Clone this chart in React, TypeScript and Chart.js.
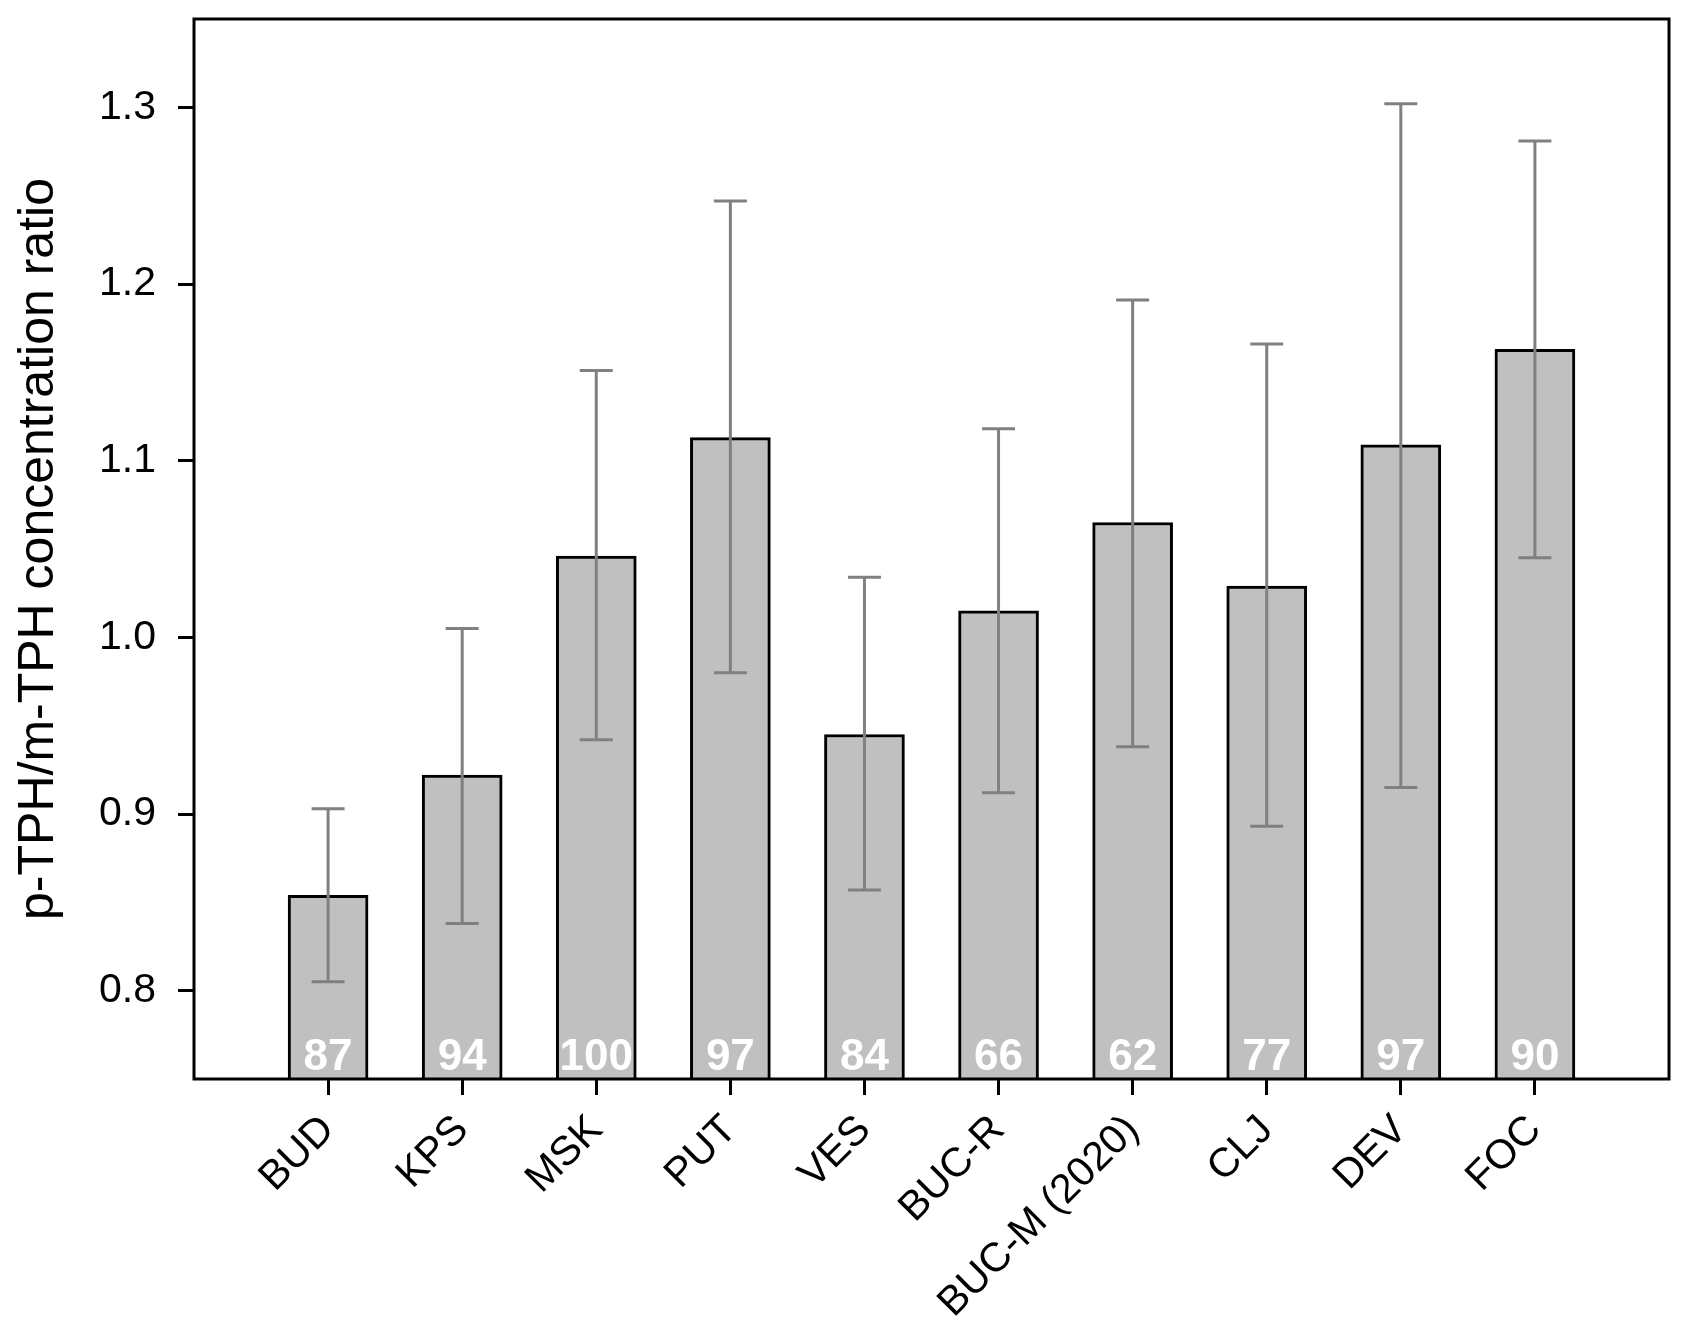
import React, { useEffect, useRef } from 'react';
import { Chart, registerables } from 'chart.js';

Chart.register(...registerables);

const FONT = '"Liberation Sans", Arial, Helvetica, sans-serif';

// ---- data ----
const labels = ['BUD', 'KPS', 'MSK', 'PUT', 'VES', 'BUC-R', 'BUC-M (2020)', 'CLJ', 'DEV', 'FOC'];
const ratios = [0.854, 0.922, 1.046, 1.113, 0.945, 1.015, 1.065, 1.029, 1.109, 1.163];
const errLow = [0.805, 0.838, 0.942, 0.98, 0.857, 0.912, 0.938, 0.893, 0.915, 1.045];
const errHigh = [0.903, 1.005, 1.151, 1.247, 1.034, 1.118, 1.191, 1.166, 1.302, 1.281];
const counts = [87, 94, 100, 97, 84, 66, 62, 77, 97, 90];
const yTicks = [0.8, 0.9, 1.0, 1.1, 1.2, 1.3];
const Y_MIN = 0.75;
const Y_MAX = 1.35;
const yTitle = 'p-TPH/m-TPH concentration ratio';

export default function App() {
  const ref = useRef<HTMLCanvasElement>(null);

  useEffect(() => {
    document.body.style.margin = '0';
    const canvas = ref.current!;

    const overlay = {
      id: 'overlay',
      afterDatasetsDraw(chart: any) {
        const ctx = chart.ctx;
        const xs = chart.scales.x;
        const ys = chart.scales.y;
        const area = chart.chartArea;
        ctx.save();
        // error bars
        ctx.strokeStyle = '#808080';
        ctx.lineWidth = 3;
        ctx.lineCap = 'butt';
        const cap = 33;
        labels.forEach((_, i) => {
          const x = xs.getPixelForValue(i);
          const yl = ys.getPixelForValue(errLow[i]);
          const yh = ys.getPixelForValue(errHigh[i]);
          ctx.beginPath();
          ctx.moveTo(x, yl);
          ctx.lineTo(x, yh);
          ctx.moveTo(x - cap / 2, yl);
          ctx.lineTo(x + cap / 2, yl);
          ctx.moveTo(x - cap / 2, yh);
          ctx.lineTo(x + cap / 2, yh);
          ctx.stroke();
        });
        // counts
        ctx.fillStyle = '#ffffff';
        ctx.font = `bold 44px ${FONT}`;
        ctx.textAlign = 'center';
        ctx.textBaseline = 'alphabetic';
        labels.forEach((_, i) => {
          const x = xs.getPixelForValue(i);
          const y = ys.getPixelForValue(Y_MIN) - 9;
          ctx.fillText(String(counts[i]), x, y);
        });
        // frame
        ctx.strokeStyle = '#000';
        ctx.lineWidth = 3;
        ctx.strokeRect(area.left, area.top, area.right - area.left, area.bottom - area.top);
        // y title
        ctx.fillStyle = '#000';
        ctx.font = `50px ${FONT}`;
        ctx.textAlign = 'center';
        ctx.textBaseline = 'alphabetic';
        ctx.translate(53, (area.top + area.bottom) / 2);
        ctx.rotate(-Math.PI / 2);
        ctx.fillText(yTitle, 0, 0);
        ctx.restore();
      },
    };

    const chart = new Chart(canvas, {
      type: 'bar',
      data: {
        datasets: [
          {
            data: labels.map((_, i) => ({ x: i, y: [Y_MIN, ratios[i]] })) as any,
            backgroundColor: '#c0c0c0',
            borderColor: '#000000',
            borderWidth: 3,
            borderSkipped: 'start',
            barThickness: 80,
          },
        ],
      },
      options: {
        animation: false,
        responsive: false,
        devicePixelRatio: 1,
        layout: { padding: { top: 19, right: 20, left: 0, bottom: 0 } },
        plugins: { legend: { display: false }, tooltip: { enabled: false } },
        scales: {
          x: {
            type: 'linear',
            min: -1,
            max: 10,
            offset: false,
            afterBuildTicks: (s: any) => {
              s.ticks = labels.map((_, i) => ({ value: i }));
            },
            afterFit: (s: any) => {
              s.height = 256;
              s.paddingLeft = 0;
              s.paddingRight = 0;
            },
            ticks: {
              callback: (v: any) => labels[v] ?? '',
              minRotation: 45,
              maxRotation: 45,
              autoSkip: false,
              padding: 11,
              font: { family: FONT, size: 41 },
              color: '#000',
            },
            grid: { offset: false, drawOnChartArea: false, tickLength: 16, tickWidth: 3, tickColor: '#000' },
            border: { display: false },
          },
          y: {
            min: Y_MIN,
            max: Y_MAX,
            afterBuildTicks: (s: any) => {
              s.ticks = yTicks.map((v) => ({ value: v }));
            },
            afterFit: (s: any) => {
              s.width = 194;
              s.paddingTop = 0;
              s.paddingBottom = 0;
            },
            ticks: {
              callback: (v: any) => Number(v).toFixed(1),
              padding: 22,
              font: { family: FONT, size: 41 },
              color: '#000',
            },
            grid: { drawOnChartArea: false, tickLength: 16, tickWidth: 3, tickColor: '#000' },
            border: { display: false },
          },
        },
      },
      plugins: [overlay],
    } as any);

    return () => chart.destroy();
  }, []);

  return (
    <div style={{ width: 1689, height: 1335 }}>
      <canvas ref={ref} width={1689} height={1335} style={{ display: 'block' }} />
    </div>
  );
}
